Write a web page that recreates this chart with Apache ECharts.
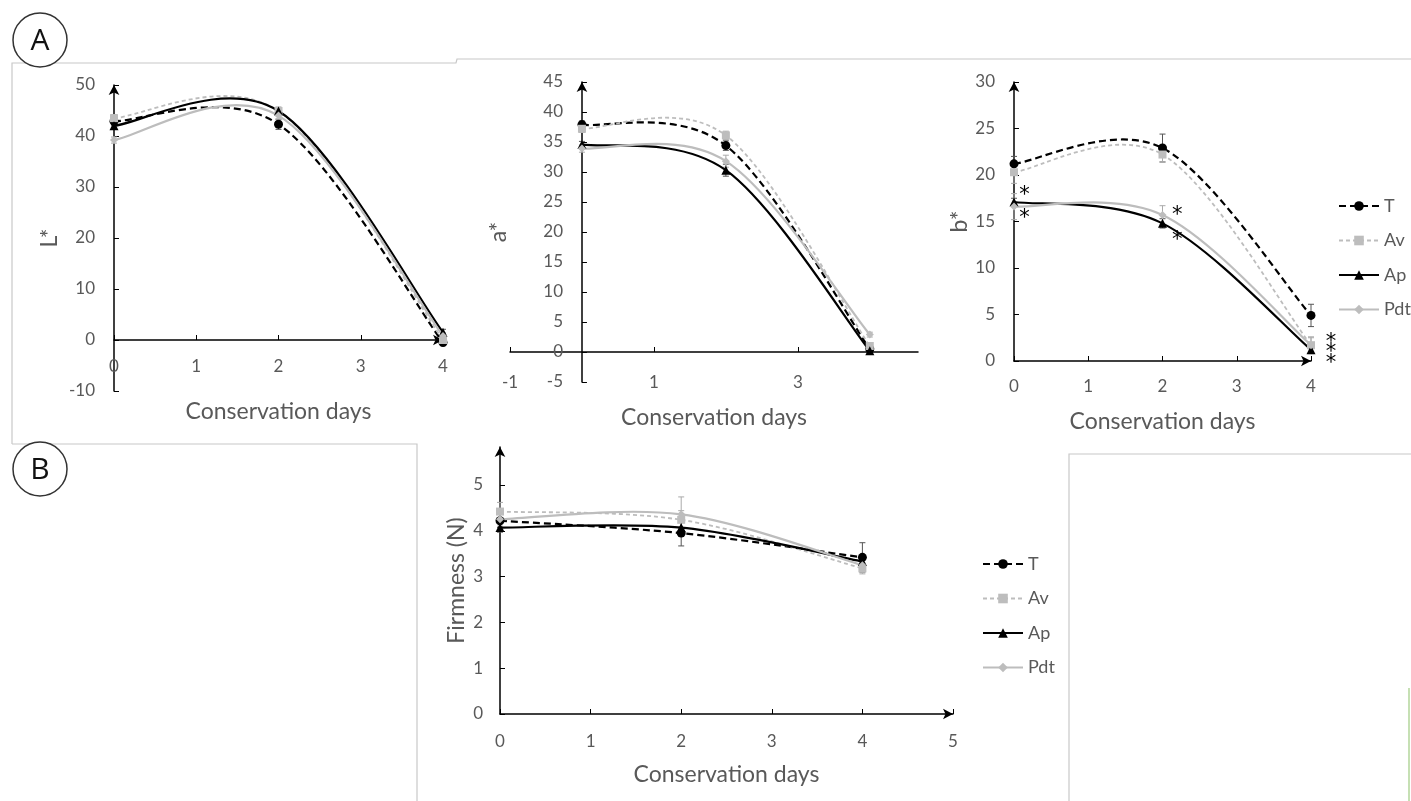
<!DOCTYPE html>
<html>
<head>
<meta charset="utf-8">
<script src="https://cdn.jsdelivr.net/npm/echarts@6/dist/echarts.min.js"></script>
<style>
html,body{margin:0;padding:0;background:#fff;}
#chart{width:1411px;height:801px;}
</style>
</head>
<body>
<div id="chart"></div>
<script>
// ---------- data ----------
const days = [0, 2, 4];
const seriesNames = ['T', 'Av', 'Ap', 'Pdt'];

// L* values (day 0, 2, 4)
const L_T   = [42.9, 42.3, -0.5];
const L_Av  = [43.5, 44.9, 0.0];
const L_Ap  = [42.0, 44.9, 1.5];
const L_Pdt = [39.2, 44.0, 0.8];
const L_err_T = [0.8, 1.0, 0.6], L_err_Av = [0.7, 0.8, 0.7], L_err_Ap = [0.6, 0.6, 0.6], L_err_Pdt = [0.6, 0.7, 0.6];

// a* values
const A_T   = [37.9, 34.4, 0.5];
const A_Av  = [37.2, 36.1, 1.0];
const A_Ap  = [34.6, 30.3, 0.2];
const A_Pdt = [33.9, 31.8, 2.9];
const A_err_T = [0.6, 0.8, 0.4], A_err_Av = [0.6, 0.7, 0.5], A_err_Ap = [0.5, 1.0, 0.3], A_err_Pdt = [0.6, 1.0, 0.4];

// b* values
const B_T   = [21.2, 22.9, 4.9];
const B_Av  = [20.3, 22.2, 1.7];
const B_Ap  = [17.1, 14.8, 1.2];
const B_Pdt = [16.6, 15.7, 1.7];
const B_err_T = [0.8, 1.5, 1.2], B_err_Av = [1.2, 0.8, 0.9], B_err_Ap = [0.4, 0.5, 0.4], B_err_Pdt = [1.4, 1.0, 0.8];
// significance marks in b* panel: [day, b*, text]
const B_marks = [[0.14, 18.3, '*'], [0.14, 15.9, '*'], [2.2, 16.2, '*'], [2.2, 13.5, '*'],
                 [4.27, 2.5, '*'], [4.27, 1.4, '*'], [4.27, 0.3, '*']];

// Firmness values (N)
const F_T   = [4.22, 3.95, 3.42];
const F_Av  = [4.42, 4.24, 3.18];
const F_Ap  = [4.07, 4.07, 3.33];
const F_Pdt = [4.25, 4.36, 3.25];
const F_err_T = [0.15, 0.28, 0.32], F_err_Av = [0.2, 0.2, 0.12], F_err_Ap = [0.1, 0.12, 0.1], F_err_Pdt = [0.15, 0.38, 0.15];

// tick labels
const L_yTicks = [-10, 0, 10, 20, 30, 40, 50];
const A_xTicks = [-1, 1, 3];
const A_yTicks = [-5, 0, 5, 10, 15, 20, 25, 30, 35, 40, 45];
const B_yTicks = [0, 5, 10, 15, 20, 25, 30];
const F_yTicks = [0, 1, 2, 3, 4, 5];
const F_xTicks = [0, 1, 2, 3, 4, 5];
const D_xTicks = [0, 1, 2, 3, 4];

// ---------- styling ----------
const FONT = 'Lato, "Open Sans", sans-serif';
const GREY_TXT = '#595959';
const sty = {
  T:   {color: '#000000', type: [7, 4], width: 2.2, symbol: 'circle',   size: 9},
  Av:  {color: '#bdbdbd', type: [4, 3], width: 1.8, symbol: 'rect',     size: 8},
  Ap:  {color: '#000000', type: 'solid', width: 2.2, symbol: 'triangle', size: 9},
  Pdt: {color: '#bdbdbd', type: 'solid', width: 2.2, symbol: 'diamond',  size: 8}
};

const panels = [
  {vals: {T: L_T, Av: L_Av, Ap: L_Ap, Pdt: L_Pdt}, errs: {T: L_err_T, Av: L_err_Av, Ap: L_err_Ap, Pdt: L_err_Pdt}},
  {vals: {T: A_T, Av: A_Av, Ap: A_Ap, Pdt: A_Pdt}, errs: {T: A_err_T, Av: A_err_Av, Ap: A_err_Ap, Pdt: A_err_Pdt}},
  {vals: {T: B_T, Av: B_Av, Ap: B_Ap, Pdt: B_Pdt}, errs: {T: B_err_T, Av: B_err_Av, Ap: B_err_Ap, Pdt: B_err_Pdt}},
  {vals: {T: F_T, Av: F_Av, Ap: F_Ap, Pdt: F_Pdt}, errs: {T: F_err_T, Av: F_err_Av, Ap: F_err_Ap, Pdt: F_err_Pdt}}
];

const axisLineStyle = {color: '#000', width: 1.5};
const labelStyle = {color: GREY_TXT, fontSize: 17, fontFamily: FONT};
const nameStyle = {color: GREY_TXT, fontSize: 23, fontFamily: FONT};

function xAxisDef(grid, min, max, ticks, arrow, labelMargin, gap) {
  return {
    gridIndex: grid, type: 'value', min: min, max: max,
    axisLine: {onZero: true, lineStyle: axisLineStyle, symbol: arrow ? ['none', 'arrow'] : 'none', symbolSize: [8, 10]},
    axisTick: {show: true, inside: true, length: 5, lineStyle: {color: '#000', width: 1}, customValues: ticks},
    axisLabel: Object.assign({customValues: ticks, margin: labelMargin}, labelStyle),
    splitLine: {show: false},
    name: 'Conservation days', nameLocation: 'middle', nameGap: gap, nameMoveOverlap: false, nameTextStyle: nameStyle
  };
}
function yAxisDef(grid, min, max, ticks, name, labelMargin, gap) {
  return {
    gridIndex: grid, type: 'value', min: min, max: max,
    axisLine: {onZero: true, lineStyle: axisLineStyle, symbol: ['none', 'arrow'], symbolSize: [8, 10]},
    axisTick: {show: true, inside: true, length: 5, lineStyle: {color: '#000', width: 1}, customValues: ticks},
    axisLabel: Object.assign({customValues: ticks, margin: labelMargin}, labelStyle),
    splitLine: {show: false},
    name: name, nameLocation: 'middle', nameGap: gap, nameRotate: 90, nameMoveOverlap: false, nameTextStyle: nameStyle
  };
}

// Excel-like smoothed curve through the data points (Catmull-Rom style Bezier, drawn in pixel space)
function curveRenderer(xs, ys, s) {
  return function (params, api) {
    if (params.dataIndex !== 0) return null;
    const P = xs.map((x, i) => api.coord([x, ys[i]]));
    const n = P.length;
    let d = 'M' + P[0][0] + ' ' + P[0][1];
    for (let i = 0; i < n - 1; i++) {
      const p0 = P[Math.max(i - 1, 0)], p1 = P[i], p2 = P[i + 1], p3 = P[Math.min(i + 2, n - 1)];
      const c1 = [p1[0] + (p2[0] - p0[0]) / 6, p1[1] + (p2[1] - p0[1]) / 6];
      const c2 = [p2[0] - (p3[0] - p1[0]) / 6, p2[1] - (p3[1] - p1[1]) / 6];
      d += ' C' + c1[0] + ' ' + c1[1] + ' ' + c2[0] + ' ' + c2[1] + ' ' + p2[0] + ' ' + p2[1];
    }
    return {
      type: 'path', shape: {pathData: d},
      style: {fill: 'none', stroke: s.color, lineWidth: s.width, lineDash: s.type === 'solid' ? null : s.type}
    };
  };
}

const series = [];
// legend proxies (first series with each name gives the legend icon)
seriesNames.forEach((n) => {
  const s = sty[n];
  series.push({
    type: 'line', name: n, xAxisIndex: 0, yAxisIndex: 0, data: [],
    symbol: s.symbol, symbolSize: s.size,
    lineStyle: {color: s.color, type: s.type, width: s.width},
    itemStyle: {color: s.color}
  });
});
panels.forEach((p, g) => {
  seriesNames.forEach((n) => {
    const s = sty[n];
    const pts = days.map((d, i) => [d, p.vals[n][i]]);
    // error bars
    series.push({
      type: 'custom', name: 'err-' + n, xAxisIndex: g, yAxisIndex: g, z: 1, silent: true,
      data: days.map((d, i) => [d, p.vals[n][i] - p.errs[n][i], p.vals[n][i] + p.errs[n][i]]),
      renderItem: function (params, api) {
        const x = api.value(0);
        const top = api.coord([x, api.value(2)]);
        const bot = api.coord([x, api.value(1)]);
        const st = {stroke: s.color === '#000000' ? '#555' : '#aaa', lineWidth: 1};
        return {type: 'group', children: [
          {type: 'line', shape: {x1: top[0], y1: top[1], x2: bot[0], y2: bot[1]}, style: st},
          {type: 'line', shape: {x1: top[0] - 3, y1: top[1], x2: top[0] + 3, y2: top[1]}, style: st},
          {type: 'line', shape: {x1: bot[0] - 3, y1: bot[1], x2: bot[0] + 3, y2: bot[1]}, style: st}
        ]};
      }
    });
    // smoothed curve
    series.push({
      type: 'custom', name: 'curve-' + n, xAxisIndex: g, yAxisIndex: g, z: 2, silent: true,
      data: pts, renderItem: curveRenderer(days, p.vals[n], s)
    });
    // markers
    series.push({
      type: 'scatter', name: n, xAxisIndex: g, yAxisIndex: g, z: 3, silent: true,
      data: pts, symbol: s.symbol, symbolSize: s.size, itemStyle: {color: s.color, opacity: 1}
    });
  });
});
// significance asterisks on b*
series.push({
  type: 'custom', name: 'sig', xAxisIndex: 2, yAxisIndex: 2, z: 5, silent: true,
  data: B_marks,
  renderItem: function (params, api) {
    const c = api.coord([api.value(0), api.value(1)]);
    return {type: 'text', x: c[0], y: c[1] + 5,
      style: {text: B_marks[params.dataIndex][2], fontSize: 21, fontFamily: 'DejaVu Sans', fill: '#000', align: 'center', verticalAlign: 'middle'}};
  }
});

const legendBase = {
  orient: 'vertical', data: seriesNames, itemWidth: 40, itemHeight: 12, itemGap: 16.5, padding: 0,
  textStyle: {color: GREY_TXT, fontSize: 18, fontFamily: FONT}, selectedMode: false
};

const frameStyle = {stroke: '#c8c8c8', lineWidth: 1.2, fill: null};

const option = {
  animation: false,
  backgroundColor: '#fff',
  textStyle: {fontFamily: FONT},
  grid: [
    {left: 114, top: 85, width: 329, height: 306},
    {left: 510, top: 82, width: 408, height: 300},
    {left: 1014, top: 82, width: 297, height: 279},
    {left: 500, top: 447, width: 453, height: 267}
  ],
  xAxis: [
    xAxisDef(0, 0, 4, D_xTicks, true, -33, 9),
    xAxisDef(1, -1, 4.67, A_xTicks, false, -8, 24),
    xAxisDef(2, 0, 4, D_xTicks, true, 17, 49),
    xAxisDef(3, 0, 5, F_xTicks, true, 19, 49)
  ],
  yAxis: [
    yAxisDef(0, -10, 50, L_yTicks, 'L*', 19, 53),
    yAxisDef(1, -5, 45, A_yTicks, 'a*', -53, 0),
    yAxisDef(2, 0, 30, B_yTicks, 'b*', 19, 43),
    yAxisDef(3, 0, 5.83, F_yTicks, 'Firmness (N)', 17, 32)
  ],
  legend: [
    Object.assign({left: 1338, top: 197}, legendBase),
    Object.assign({left: 982, top: 555}, legendBase)
  ],
  graphic: [
    {type: 'polyline', silent: true, shape: {points: [[12, 444], [12, 63], [456, 63], [457, 59], [1411, 59]]}, style: frameStyle},
    {type: 'polyline', silent: true, shape: {points: [[12, 444], [417, 444], [417, 801]]}, style: frameStyle},
    {type: 'polyline', silent: true, shape: {points: [[1069, 801], [1069, 454], [1411, 454]]}, style: frameStyle},
    {type: 'line', silent: true, shape: {x1: 1409, y1: 688, x2: 1409, y2: 801}, style: {stroke: '#c6e0b4', lineWidth: 2}},
    {type: 'circle', silent: true, shape: {cx: 40, cy: 40, r: 27}, style: {stroke: '#333', lineWidth: 1.5, fill: '#fff'}},
    {type: 'text', silent: true, x: 40, y: 41, style: {text: 'A', fontSize: 30, fontFamily: '"Open Sans", Lato, sans-serif', fill: '#111', align: 'center', verticalAlign: 'middle'}},
    {type: 'circle', silent: true, shape: {cx: 40, cy: 469, r: 27}, style: {stroke: '#333', lineWidth: 1.5, fill: '#fff'}},
    {type: 'text', silent: true, x: 40, y: 470, style: {text: 'B', fontSize: 30, fontFamily: '"Open Sans", Lato, sans-serif', fill: '#111', align: 'center', verticalAlign: 'middle'}}
  ],
  series: series
};

const chart = echarts.init(document.getElementById('chart'), null, {renderer: 'canvas'});
chart.setOption(option);
</script>
</body>
</html>
